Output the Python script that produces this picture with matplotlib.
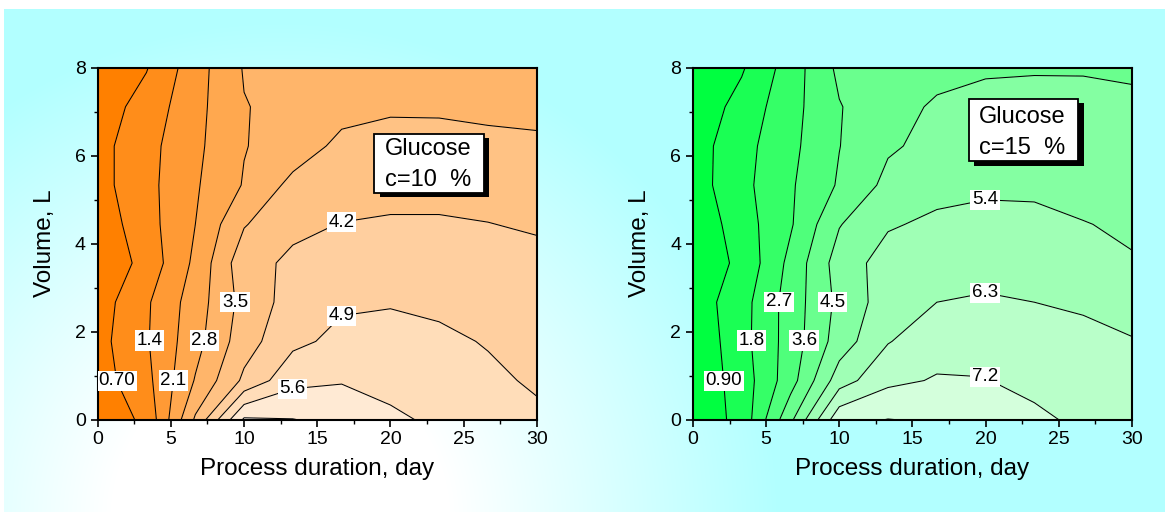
import numpy as np
import matplotlib
matplotlib.use('Agg')
import matplotlib.pyplot as plt
from matplotlib.patches import Rectangle

plt.rcParams['font.family'] = ['Liberation Sans', 'DejaVu Sans']

# grid of the measurements
days = [0, 3.33, 6.67, 10, 13.33, 16.67, 20, 23.33, 26.67, 30]
volume = [0, 0.89, 1.78, 2.67, 3.56, 4.44, 5.33, 6.22, 7.11, 8]

# rows = volume, columns = days
conc_10 = [
    [0.26, 0.84, 3.60, 6.40, 6.32, 6.10, 5.75, 5.45, 5.25, 5.05],
    [0.39, 1.19, 2.85, 4.34, 5.41, 5.55, 5.35, 5.25, 5.05, 4.80],
    [0.46, 1.33, 2.55, 3.90, 4.73, 5.09, 5.15, 5.05, 4.85, 4.55],
    [0.36, 1.30, 2.45, 3.74, 4.49, 4.80, 4.85, 4.75, 4.60, 4.50],
    [0.10, 0.95, 2.25, 3.95, 4.33, 4.60, 4.65, 4.60, 4.55, 4.45],
    [0.26, 1.13, 2.10, 3.45, 4.05, 4.22, 4.30, 4.30, 4.22, 4.10],
    [0.45, 1.19, 2.02, 2.85, 3.70, 3.86, 3.90, 3.90, 3.86, 3.80],
    [0.46, 1.17, 1.94, 2.77, 3.11, 3.68, 3.75, 3.75, 3.70, 3.65],
    [0.33, 0.98, 1.88, 2.77, 3.00, 3.26, 3.41, 3.40, 3.32, 3.27],
    [0.30, 0.66, 1.80, 2.85, 3.05, 3.15, 3.20, 3.20, 3.20, 3.20],
]

conc_15 = [
    [0.32, 1.16, 4.30, 7.85, 8.12, 8.00, 7.80, 7.40, 7.00, 6.80],
    [0.22, 1.30, 3.22, 5.88, 7.00, 7.27, 7.23, 6.94, 6.75, 6.55],
    [0.17, 1.48, 3.10, 4.92, 6.25, 6.85, 6.90, 6.75, 6.60, 6.35],
    [0.38, 1.45, 3.10, 4.73, 5.86, 6.30, 6.44, 6.30, 6.15, 5.95],
    [0.30, 1.10, 2.95, 4.92, 5.78, 5.85, 5.85, 5.80, 5.65, 5.50],
    [0.20, 1.38, 2.60, 4.45, 5.31, 5.57, 5.65, 5.60, 5.45, 5.20],
    [0.47, 1.54, 2.59, 3.70, 4.74, 5.12, 5.25, 5.25, 4.95, 4.80],
    [0.48, 1.48, 2.47, 3.58, 4.39, 4.74, 4.90, 4.90, 4.80, 4.70],
    [0.28, 1.22, 2.38, 3.55, 4.22, 4.60, 4.75, 4.78, 4.72, 4.62],
    [0.35, 0.80, 2.23, 3.80, 4.00, 4.27, 4.40, 4.43, 4.44, 4.41],
]

levels_10 = [0.7, 1.4, 2.1, 2.8, 3.5, 4.2, 4.9, 5.6, 6.3]
levels_15 = [0.9, 1.8, 2.7, 3.6, 4.5, 5.4, 6.3, 7.2, 8.1]

# where the contour labels sit (days, volume)
labels_10 = [(1.37, 0.89), (3.5, 1.8), (5.13, 0.89), (7.19, 1.8), (9.4, 2.67),
             (16.65, 4.52), (16.65, 2.37), (13.3, 0.72)]
labels_15 = [(2.28, 0.89), (4.0, 1.8), (6.05, 2.67), (7.53, 1.8), (9.58, 2.67),
             (19.96, 5.0), (19.96, 2.9), (19.96, 0.96)]


def band_colors(start, end, n):
    start = np.array(start) / 255
    end = np.array(end) / 255
    return [tuple(start + (end - start) * k / (n - 1)) for k in range(n)]


def draw_panel(ax, z, levels, label_pos, cols, note):
    z = np.array(z)
    bounds = [-1] + levels + [20]
    ax.contourf(days, volume, z, levels=bounds, colors=cols)
    cs = ax.contour(days, volume, z, levels=levels, colors='k', linewidths=0.75)
    fmt = {lv: f'{lv:.1f}' for lv in levels}
    fmt[levels[0]] = f'{levels[0]:.2f}'
    texts = ax.clabel(cs, levels[:8], manual=label_pos, fmt=fmt, inline=False, fontsize=13.5)
    for t in texts:
        t.set_rotation(0)
        t.set_color('black')
        t.set_bbox(dict(facecolor='white', edgecolor='none', pad=1.2))

    ax.set_xlim(0, 30)
    ax.set_ylim(0, 8)
    ax.set_xticks([0, 5, 10, 15, 20, 25, 30])
    ax.set_xticks([2.5, 7.5, 12.5, 17.5, 22.5, 27.5], minor=True)
    ax.set_yticks([0, 2, 4, 6, 8])
    ax.set_yticks([1, 3, 5, 7], minor=True)
    ax.tick_params(which='major', direction='out', length=5, width=1.2, labelsize=14)
    ax.tick_params(which='minor', direction='out', length=3, width=1)
    for s in ax.spines.values():
        s.set_linewidth(1.5)
    ax.set_xlabel('Process duration, day', fontsize=17.5)
    ax.set_ylabel('Volume, L', fontsize=17.5)
    ax.xaxis.set_label_coords(0.5, -0.11)
    ax.yaxis.set_label_coords(-0.095, 0.5)

    # note box with a drop shadow
    x0, y0, w, h = note['box']
    ax.add_patch(Rectangle((x0 + 0.012, y0 - 0.012), w, h, transform=ax.transAxes,
                           facecolor='black', edgecolor='none', zorder=5))
    ax.add_patch(Rectangle((x0, y0), w, h, transform=ax.transAxes,
                           facecolor='white', edgecolor='black', linewidth=1.3, zorder=6))
    ax.text(note['tx'], note['ty'][0], 'Glucose', transform=ax.transAxes,
            fontsize=17, va='center', ha='left', zorder=7)
    ax.text(note['tx'], note['ty'][1], note['text'], transform=ax.transAxes,
            fontsize=17, va='center', ha='left', zorder=7)


fig = plt.figure(figsize=(11.65, 5.12), dpi=100)

# background: white to cyan radial wash
bg = fig.add_axes([0, 0, 1, 1], zorder=-10)
yy, xx = np.mgrid[0:512, 0:1165]
d = np.hypot(xx - 280, yy - 520)
t = np.clip((d - 170) / 330, 0, 1)[..., None]
cyan = np.array([178, 255, 255]) / 255
img = np.ones((512, 1165, 3)) * (1 - t) + cyan * t
img[:9, :, :] = 1
img[:, :4, :] = 1
bg.imshow(img, extent=[0, 1165, 512, 0], aspect='auto')
bg.set_xlim(0, 1165)
bg.set_ylim(512, 0)
bg.axis('off')

ax1 = fig.add_axes([0.0839, 0.1803, 0.3768, 0.6875])
ax2 = fig.add_axes([0.5948, 0.1803, 0.3768, 0.6875])

draw_panel(ax1, conc_10, levels_10, labels_10,
           band_colors((255, 128, 0), (255, 247, 238), 10),
           dict(box=(0.63, 0.645, 0.25, 0.168), tx=0.654, ty=(0.768, 0.681), text='c=10  %'))
draw_panel(ax2, conc_15, levels_15, labels_15,
           band_colors((0, 255, 64), (238, 255, 240), 10),
           dict(box=(0.629, 0.734, 0.249, 0.177), tx=0.651, ty=(0.859, 0.771), text='c=15  %'))

fig.savefig('out.png', dpi=100)
